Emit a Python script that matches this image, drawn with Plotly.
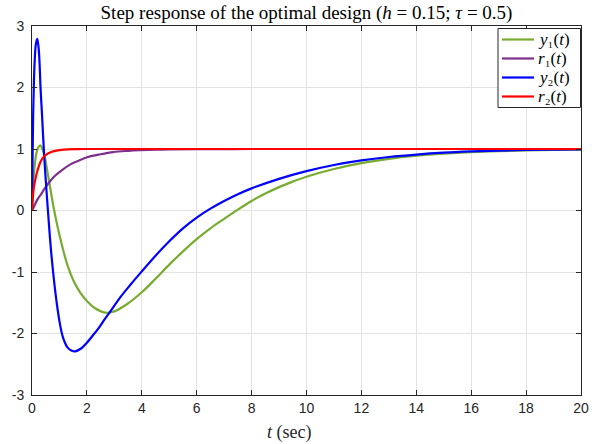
import plotly.graph_objects as go

# ---- data ----
t_y1 = [0, 0.04, 0.08, 0.12, 0.16, 0.22, 0.30, 0.38, 0.46, 0.55, 0.64, 0.72, 0.80, 0.90, 1.0,
        1.14, 1.3, 1.5, 1.75, 2.0, 2.3, 2.66, 3.0, 3.5, 4.0, 4.5, 5.0, 5.5, 6.0, 6.5, 7.0,
        7.5, 8.0, 8.5, 9, 9.5, 10, 11, 12, 13, 14, 15, 16, 17, 18, 19, 20]
y1 = [0, 0.40, 0.65, 0.82, 0.93, 1.02, 1.06, 1.0, 0.88, 0.66, 0.43, 0.22, 0.02, -0.20, -0.40,
      -0.65, -0.90, -1.13, -1.33, -1.47, -1.59, -1.66, -1.64, -1.51, -1.33, -1.11, -0.88, -0.665,
      -0.465, -0.29, -0.135, 0.015, 0.155, 0.275, 0.38, 0.47, 0.55, 0.675, 0.77, 0.84, 0.89, 0.925,
      0.95, 0.966, 0.977, 0.985, 0.99]

t_r1 = [0, 0.1, 0.2, 0.34, 0.45, 0.58, 0.8, 1.07, 1.4, 1.7, 2.04, 2.5, 2.96, 3.5, 3.93, 4.5, 5, 6, 8, 10, 15, 20]
r1 = [0, 0.09, 0.18, 0.27, 0.35, 0.43, 0.55, 0.65, 0.75, 0.81, 0.87, 0.915, 0.95, 0.97, 0.98,
      0.988, 0.993, 0.997, 1.0, 1.0, 1.0, 1.0]

t_y2 = [0, 0.02, 0.04, 0.07, 0.10, 0.14, 0.19, 0.24, 0.28, 0.31, 0.36, 0.40, 0.45, 0.50, 0.58,
        0.65, 0.72, 0.80, 0.90, 1.0, 1.1, 1.2, 1.3, 1.45, 1.57, 1.8, 2.0, 2.2, 2.4, 2.6, 2.84,
        3.2, 3.6, 4.0, 4.5, 5.0, 5.5, 6.0, 6.5, 7, 7.5, 8, 9, 10, 11, 12, 13, 14, 15, 16, 17,
        18, 19, 20]
y2 = [0, 0.8, 1.5, 2.1, 2.45, 2.7, 2.79, 2.65, 2.35, 2.0, 1.6, 1.25, 0.85, 0.5, 0.0,
      -0.42, -0.78, -1.13, -1.50, -1.80, -2.02, -2.15, -2.23, -2.28, -2.29, -2.24, -2.15, -2.04,
      -1.93, -1.80, -1.65, -1.42, -1.20, -0.99, -0.735, -0.50, -0.29, -0.115, 0.03, 0.155, 0.265,
      0.36, 0.515, 0.64, 0.74, 0.815, 0.87, 0.91, 0.94, 0.96, 0.974, 0.984, 0.99, 0.995]

t_r2 = [0, 0.03, 0.07, 0.12, 0.17, 0.22, 0.3, 0.4, 0.52, 0.7, 0.85, 1.07, 1.3, 1.6, 2, 5, 10, 20]
r2 = [0, 0.2, 0.38, 0.5, 0.6, 0.68, 0.78, 0.86, 0.91, 0.95, 0.97, 0.985, 0.993, 0.997, 1.0, 1.0, 1.0, 1.0]

x_ticks = list(range(0, 21, 2))
y_ticks = [-3, -2, -1, 0, 1, 2, 3]

names = ["<i>y</i>₁(<i>t</i>)", "<i>r</i>₁(<i>t</i>)",
         "<i>y</i>₂(<i>t</i>)", "<i>r</i>₂(<i>t</i>)"]
colors = ["#77AC30", "#7E2F8E", "#0000FF", "#FF0000"]
series = [(t_y1, y1), (t_r1, r1), (t_y2, y2), (t_r2, r2)]

# ---- layout geometry (pixels) ----
W, H = 608, 444
ML, MR, MT, MB = 32, 27, 26, 49
PW, PH = W - ML - MR, H - MT - MB


def px(x):
    return (x - ML) / PW


def py(y):
    return (H - MB - y) / PH


fig = go.Figure()
for (tt, vv), nm, c in zip(series, names, colors):
    fig.add_trace(go.Scatter(x=tt, y=vv, mode="lines", name=nm, showlegend=False,
                             line=dict(color=c, width=2.2, shape="spline", smoothing=1.0)))

axis_common = dict(
    showline=True, linecolor="#262626", linewidth=1, mirror="ticks",
    ticks="inside", ticklen=5, tickcolor="#262626", tickwidth=1,
    showgrid=True, gridcolor="#e3e3e3", gridwidth=1, zeroline=False,
    tickfont=dict(family="Liberation Sans, Arial, sans-serif", size=14, color="#262626"),
)

serif = "Liberation Serif, DejaVu Serif, Times New Roman, serif"

# custom legend box (top right, inside the axes)
shapes = [dict(type="rect", xref="paper", yref="paper",
               x0=px(498), x1=px(580.5), y0=py(107.5), y1=py(28.5),
               fillcolor="white", line=dict(color="#262626", width=1), layer="above")]
annotations = []
rows = [39.5, 58.5, 77.5, 96.5]
for nm, c, ry in zip(names, colors, rows):
    shapes.append(dict(type="line", xref="paper", yref="paper",
                       x0=px(502), x1=px(534), y0=py(ry), y1=py(ry),
                       line=dict(color=c, width=2.2), layer="above"))
    annotations.append(dict(text=nm, xref="paper", yref="paper", x=px(535.5), y=py(ry),
                            xanchor="left", yanchor="middle", showarrow=False,
                            font=dict(family=serif, size=17, color="black")))

annotations.append(dict(text="<i>t</i> (sec)", xref="paper", yref="paper",
                        x=px(289), y=py(432), xanchor="center", yanchor="middle",
                        showarrow=False, font=dict(family=serif, size=18, color="#262626")))

fig.update_layout(
    width=W, height=H,
    margin=dict(l=ML, r=MR, t=MT, b=MB),
    paper_bgcolor="white", plot_bgcolor="white",
    title=dict(text="Step response of the optimal design (<i>h</i> = 0.15; <i>τ</i> = 0.5)",
               font=dict(family=serif, size=19, color="black"),
               x=0.5, xref="paper", xanchor="center", y=1 - 12 / H, yref="container", yanchor="middle"),
    xaxis=dict(range=[0, 20], tickvals=x_ticks, ticktext=[str(v) for v in x_ticks],
               **axis_common),
    yaxis=dict(range=[-3, 3], tickvals=y_ticks, ticktext=[str(v) for v in y_ticks],
               ticklabelstandoff=4, **axis_common),
    showlegend=False,
    shapes=shapes,
    annotations=annotations,
)

fig.write_html("out.html")
